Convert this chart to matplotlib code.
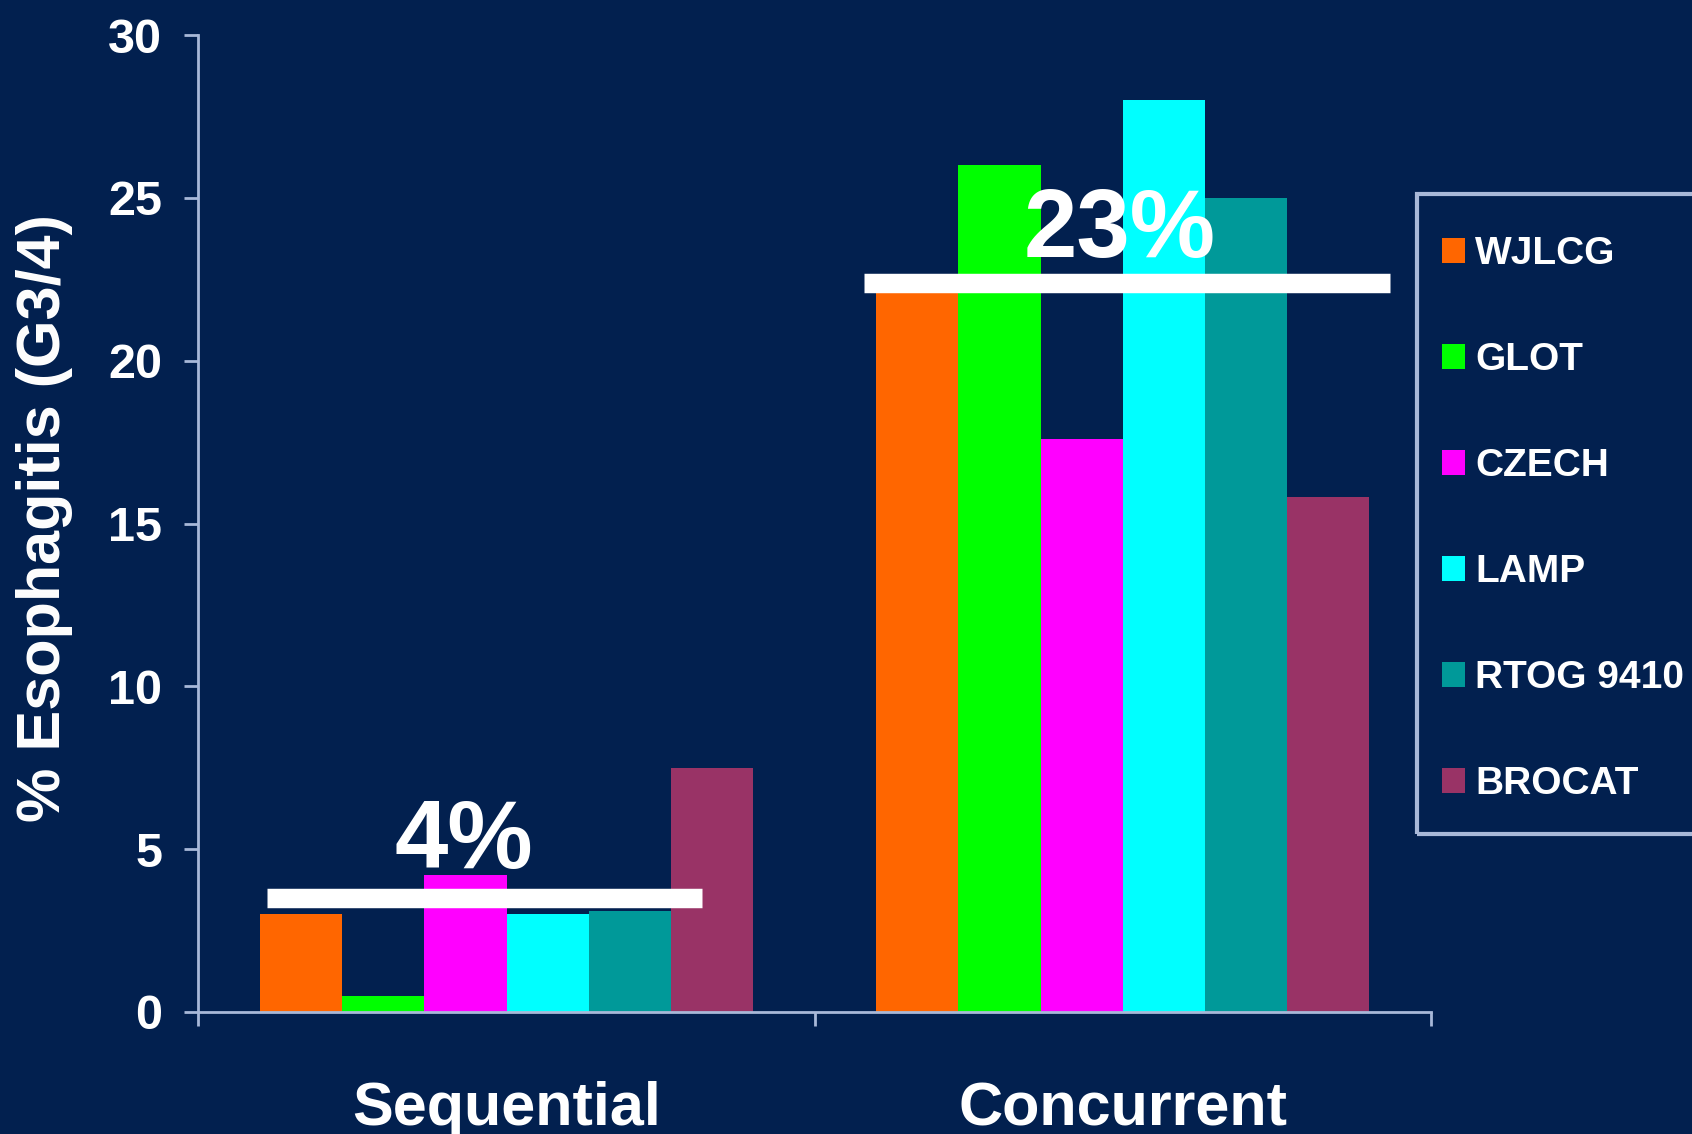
import matplotlib
matplotlib.use("Agg")
import matplotlib.pyplot as plt
from matplotlib.patches import Rectangle
import numpy as np

# data
groups = ["Sequential", "Concurrent"]
trials = ["WJLCG", "GLOT", "CZECH", "LAMP", "RTOG 9410", "BROCAT"]
sequential = [3.0, 0.5, 4.2, 3.0, 3.1, 7.5]
concurrent = [22.2, 26.0, 17.6, 28.0, 25.0, 15.8]
pooled = [3.5, 22.4]
pooled_labels = ["4%", "23%"]
yticks = [0, 5, 10, 15, 20, 25, 30]

colors = ["#ff6600", "#00ff00", "#ff00ff", "#00ffff", "#009999", "#993366"]
bg = "#02204f"
axis_col = "#a8b8d8"

plt.rcParams["font.family"] = ["Liberation Sans", "DejaVu Sans"]
plt.rcParams["font.weight"] = "bold"

fig = plt.figure(figsize=(16.92, 11.34), dpi=100, facecolor=bg)
ax = fig.add_axes([0.1173, 0.1076, 0.7284, 0.8615])
ax.set_facecolor(bg)

values = np.array([sequential, concurrent])
n = len(trials)
width = 0.8 / n
x = np.arange(len(groups))
for i, name in enumerate(trials):
    ax.bar(x - 0.4 + width * (i + 0.5), values[:, i], width,
           color=colors[i], label=name, zorder=2)

# pooled-rate bars and labels
spans = [(-0.388, 0.317), (-0.42, 0.434)]
label_dx = [-0.07, -0.005]
label_dy = [1.7, 1.55]
for xi, (y, lab, (a, b)) in enumerate(zip(pooled, pooled_labels, spans)):
    ax.plot([xi + a, xi + b], [y, y], color="white", lw=14,
            solid_capstyle="butt", zorder=3)
    ax.text(xi + label_dx[xi], y + label_dy[xi], lab, color="white",
            fontsize=69, fontweight="bold", ha="center", va="center", zorder=4)

ax.set_xlim(-0.5, 1.5)
ax.set_ylim(0, 30)
ax.set_yticks(yticks)
ax.set_yticklabels([str(t) for t in yticks], fontsize=35, color="white",
                   fontweight="bold")
ax.set_xticks(x)
ax.set_xticklabels(groups, fontsize=44, color="white", fontweight="bold")
ax.set_xticks([-0.5, 0.5, 1.5], minor=True)
ax.tick_params(axis="x", which="major", length=0, pad=50)
ax.tick_params(axis="x", which="minor", length=10, width=2, color=axis_col)
ax.tick_params(axis="y", length=10, width=2, color=axis_col, pad=16)

for s in ["top", "right"]:
    ax.spines[s].set_visible(False)
for s in ["left", "bottom"]:
    ax.spines[s].set_color(axis_col)
    ax.spines[s].set_linewidth(2)

ax.set_ylabel("% Esophagitis (G3/4)", fontsize=44, color="white",
              fontweight="bold")
ax.yaxis.set_label_coords(-0.102, 0.506)

# legend frame drawn separately so the inner padding can differ per side
fig.patches.append(Rectangle((1417 / 1692, 1 - 834 / 1134), 0.2, 640 / 1134,
                             transform=fig.transFigure, fill=False,
                             edgecolor=axis_col, linewidth=3, zorder=5))
leg = fig.legend(loc="upper left", bbox_to_anchor=(1442 / 1692, 1 - 236 / 1134),
                 frameon=False, fontsize=28, labelcolor="white",
                 handlelength=0.6, handleheight=0.6, handletextpad=0.25,
                 labelspacing=1.8, borderpad=0, borderaxespad=0)
for t in leg.get_texts():
    t.set_fontweight("bold")

fig.savefig("out.png", dpi=100, facecolor=bg)
